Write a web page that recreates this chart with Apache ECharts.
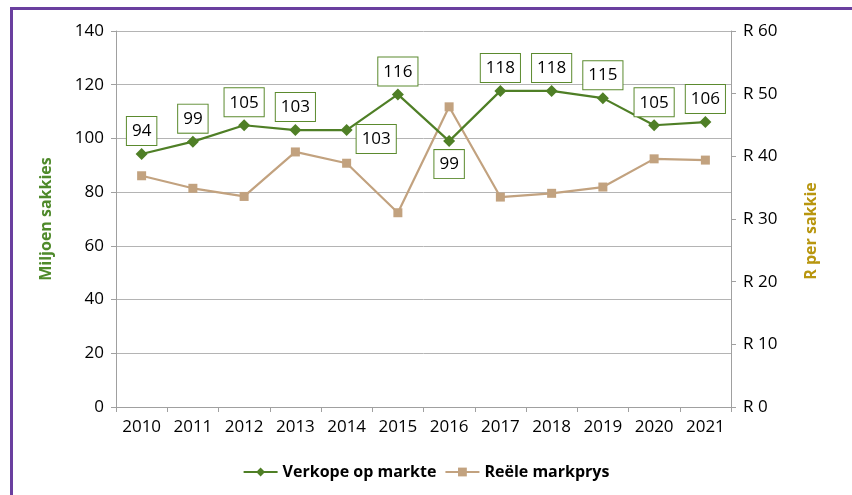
<!DOCTYPE html>
<html><head><meta charset="utf-8">
<script src="https://cdn.jsdelivr.net/npm/echarts@6/dist/echarts.min.js"></script>
<style>html,body{margin:0;padding:0;background:#fff}#c{width:852px;height:495px}</style>
</head><body><div id="c"></div>
<script>
const years = ['2010','2011','2012','2013','2014','2015','2016','2017','2018','2019','2020','2021'];
const verkope = [94.2, 98.8, 104.9, 103.1, 103.1, 116.4, 99.0, 117.7, 117.7, 115.0, 104.9, 106.1];
const markprys = [36.9, 34.9, 33.6, 40.7, 38.9, 31.0, 47.9, 33.5, 34.1, 35.1, 39.6, 39.4];
const leftTicks = [0, 20, 40, 60, 80, 100, 120, 140];
const rightTicks = [0, 10, 20, 30, 40, 50, 60];

const FONT = '"Open Sans", "Liberation Sans", sans-serif';
const GREEN = '#4f7f26';
const BROWN = '#c2a27f';

// per-point label placement (index -> label override)
const labelPlace = {4: {position: 'right', distance: 4, offset: [0, 9]}, 6: {position: 'bottom', distance: 3}};

const verkopeData = verkope.map((v, i) => labelPlace[i] ? {value: v, label: labelPlace[i]} : v);

const chart = echarts.init(document.getElementById('c'), null, {renderer: 'canvas'});
chart.setOption({
  animation: false,
  textStyle: {fontFamily: FONT},
  graphic: [{type: 'rect', shape: {x: 11.5, y: 8.5, width: 900, height: 600}, style: {fill: 'none', stroke: '#6a3f9f', lineWidth: 3}, silent: true}],
  grid: {left: 116, right: 121, top: 31, bottom: 88},
  legend: {
    left: 'center', top: 459, itemWidth: 34, itemHeight: 11, itemGap: 8,
    textStyle: {fontFamily: FONT, fontSize: 16, fontWeight: 'bold', color: '#000'},
    data: ['Verkope op markte', 'Reële markprys']
  },
  xAxis: {
    type: 'category', data: years, boundaryGap: true,
    axisLine: {lineStyle: {color: '#a0a0a0'}},
    axisTick: {show: true, length: 5, lineStyle: {color: '#a0a0a0'}},
    axisLabel: {fontSize: 17, color: '#000', margin: 12, fontFamily: FONT}
  },
  yAxis: [{
    type: 'value', min: leftTicks[0], max: leftTicks[leftTicks.length - 1], interval: 20,
    name: 'Miljoen sakkies', nameLocation: 'middle', nameGap: 62, nameRotate: 90,
    nameTextStyle: {color: '#4f8a2b', fontSize: 16, fontWeight: 'bold', fontFamily: FONT},
    axisLine: {show: true, lineStyle: {color: '#a0a0a0'}},
    axisTick: {show: true, length: 5, lineStyle: {color: '#a0a0a0'}},
    axisLabel: {fontSize: 17, color: '#000', margin: 12, fontFamily: FONT},
    splitLine: {show: true, lineStyle: {color: '#b4b4b4'}}
  }, {
    type: 'value', min: rightTicks[0], max: rightTicks[rightTicks.length - 1], interval: 10,
    name: 'R per sakkie', nameLocation: 'middle', nameGap: 72, nameRotate: 90,
    nameTextStyle: {color: '#b8960f', fontSize: 16, fontWeight: 'bold', fontFamily: FONT, padding: [0, 24, 0, 0]},
    axisLine: {show: true, lineStyle: {color: '#a0a0a0'}},
    axisTick: {show: true, length: 5, lineStyle: {color: '#a0a0a0'}},
    axisLabel: {fontSize: 17, color: '#000', margin: 12, fontFamily: FONT, formatter: v => 'R ' + v},
    splitLine: {show: false}
  }],
  series: [{
    name: 'Verkope op markte', type: 'line', yAxisIndex: 0, data: verkopeData,
    symbol: 'diamond', symbolSize: 12, lineStyle: {color: GREEN, width: 2.2}, itemStyle: {color: GREEN}, z: 3,
    label: {
      show: true, position: 'top', distance: 3,
      formatter: p => Math.round(p.value),
      fontSize: 17, color: '#000', fontFamily: FONT,
      backgroundColor: '#fff', borderColor: '#5b8a2e', borderWidth: 1, padding: [6, 5, 5, 5]
    }
  }, {
    name: 'Reële markprys', type: 'line', yAxisIndex: 1, data: markprys,
    symbol: 'rect', symbolSize: 9, lineStyle: {color: BROWN, width: 2.2}, itemStyle: {color: BROWN}, z: 2
  }]
});
</script></body></html>
